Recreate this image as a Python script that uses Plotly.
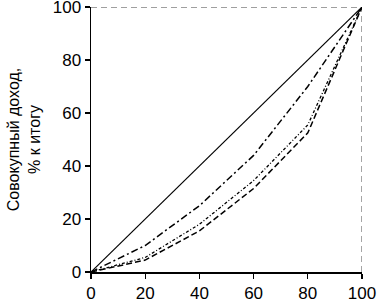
import plotly.graph_objects as go

x_pop = [0, 20, 40, 60, 80, 100]
equality = [0, 20, 40, 60, 80, 100]
curve_dashdot = [0, 10, 25, 44, 70, 100]
curve_dotted = [0, 5.5, 18, 34.5, 55.5, 100]
curve_dashed = [0, 4.5, 15.5, 31.5, 52.5, 100]
frame_x = [0, 100, 100]
frame_y = [100, 100, 0]
tick_vals = [0, 20, 40, 60, 80, 100]
y_title = "Совокупный доход,<br>% к итогу"

fig = go.Figure()
fig.add_trace(go.Scatter(x=frame_x, y=frame_y, mode="lines",
                         line=dict(color="#808080", width=1.4, dash="6px,4px"), cliponaxis=False))
fig.add_trace(go.Scatter(x=x_pop, y=equality, mode="lines", line=dict(color="black", width=1.2)))
fig.add_trace(go.Scatter(x=x_pop, y=curve_dashdot, mode="lines",
                         line=dict(color="black", width=1.5, dash="7px,3px,2px,3px")))
fig.add_trace(go.Scatter(x=x_pop, y=curve_dotted, mode="lines",
                         line=dict(color="black", width=1.3, dash="3px,2px,1px,2px")))
fig.add_trace(go.Scatter(x=x_pop, y=curve_dashed, mode="lines",
                         line=dict(color="black", width=1.5, dash="6px,3px")))

font = dict(family="Liberation Sans, Arial, sans-serif", color="black")
fig.update_layout(
    width=377, height=305,
    margin=dict(l=91, r=15, t=7, b=33, autoexpand=False),
    plot_bgcolor="white", paper_bgcolor="white",
    showlegend=False,
    font=dict(**font, size=17),
)
fig.update_xaxes(range=[0, 100], tickvals=tick_vals, ticks="outside", ticklen=5, tickwidth=1.2,
                 tickcolor="black", showline=True, linecolor="black", linewidth=1.5,
                 showgrid=False, zeroline=False, tickfont=dict(size=17), automargin=False,
                 ticklabeloverflow="allow")
fig.update_yaxes(range=[0, 100], tickvals=tick_vals, ticks="outside", ticklen=5, tickwidth=1.2,
                 tickcolor="black", showline=True, linecolor="black", linewidth=1.5,
                 showgrid=False, zeroline=False, tickfont=dict(size=17), automargin=False,
                 ticklabeloverflow="allow",
                 title=dict(text=y_title, font=dict(size=16), standoff=8))

fig.write_html("out.html", config={"displayModeBar": False, "staticPlot": True},
               post_script="document.body.style.margin='0';document.body.style.overflow='hidden';")
